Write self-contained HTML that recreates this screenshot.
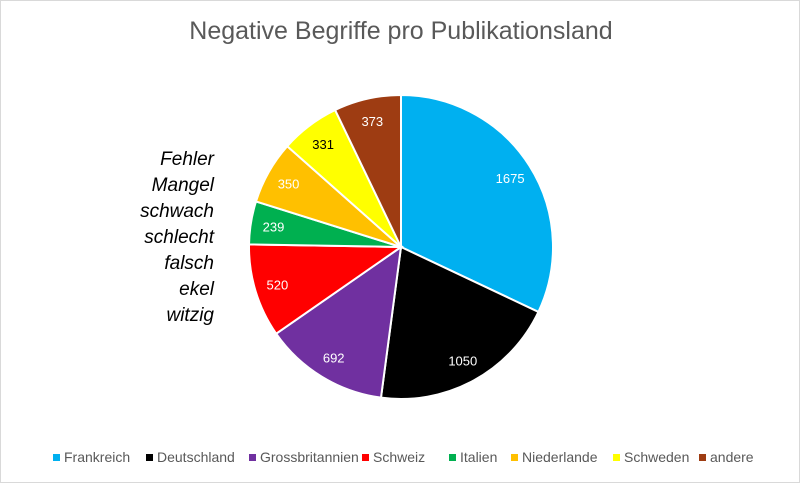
<!DOCTYPE html>
<html><head><meta charset="utf-8"><style>
body{margin:0;background:#fff;font-family:"Liberation Sans",sans-serif}
#wrap{position:relative;width:800px;height:483px;box-sizing:border-box;border:1px solid #d9d9d9;overflow:hidden}
.t{position:absolute;white-space:nowrap}
.lg{position:absolute;top:448px;font-size:14px;color:#595959;white-space:nowrap}
.lg span{display:inline-block;width:7px;height:7px;margin-right:4px;vertical-align:1px}
.kw{position:absolute;right:585px;font-size:19px;font-style:italic;color:#000}
</style></head><body>
<div id="wrap">
<div class="t" style="left:0;width:800px;text-align:center;top:16px;font-size:25px;color:#595959">Negative Begriffe pro Publikationsland</div>
<div class="kw" style="top:148px">Fehler</div>
<div class="kw" style="top:174px">Mangel</div>
<div class="kw" style="top:200px">schwach</div>
<div class="kw" style="top:226px">schlecht</div>
<div class="kw" style="top:252px">falsch</div>
<div class="kw" style="top:278px">ekel</div>
<div class="kw" style="top:304px">witzig</div>
<svg id="pie" width="800" height="483" style="position:absolute;left:0;top:0"></svg>
<div id="legend"></div>
</div>
<script>
const categories=["Frankreich","Deutschland","Grossbritannien","Schweiz","Italien","Niederlande","Schweden","andere"];
const values=[1675,1050,692,520,239,350,331,373];
const colors=["#00b0f0","#000000","#7030a0","#ff0000","#00b050","#ffc000","#ffff00","#9e3c12"];
const labelColors=["#fff","#fff","#fff","#fff","#fff","#fff","#000","#fff"];
const legendX=[52,145,248,361,448,510,612,698];
const cx=400,cy=246,r=152;
const svg=document.getElementById('pie');
const NS="http://www.w3.org/2000/svg";
const total=values.reduce((a,b)=>a+b,0);
let a0=0;
values.forEach((v,i)=>{
  const a1=a0+v/total*2*Math.PI;
  const x0=cx+r*Math.sin(a0),y0=cy-r*Math.cos(a0),x1=cx+r*Math.sin(a1),y1=cy-r*Math.cos(a1);
  const p=document.createElementNS(NS,'path');
  p.setAttribute('d',`M${cx},${cy}L${x0},${y0}A${r},${r} 0 ${a1-a0>Math.PI?1:0} 1 ${x1},${y1}Z`);
  p.setAttribute('fill',colors[i]);p.setAttribute('stroke','#fff');p.setAttribute('stroke-width','2');
  
  
  svg.appendChild(p);
  const am=(a0+a1)/2,lr=r*0.85;
  const t=document.createElementNS(NS,'text');
  t.setAttribute('x',cx+lr*Math.sin(am));t.setAttribute('y',cy-lr*Math.cos(am)+5);
  t.setAttribute('text-anchor','middle');t.setAttribute('font-size','13');t.setAttribute('fill',labelColors[i]);
  t.setAttribute('font-family','Liberation Sans, sans-serif');
  t.textContent=values[i];
  
  
  svg.appendChild(t);
  a0=a1;
});
const lg=document.getElementById('legend');
categories.forEach((c,i)=>{
  const d=document.createElement('div');d.className='lg';d.style.left=legendX[i]+'px';
  d.innerHTML='<span style="background:'+colors[i]+'"></span>'+c;
  
  
  lg.appendChild(d);
});
</script>
</body></html>
